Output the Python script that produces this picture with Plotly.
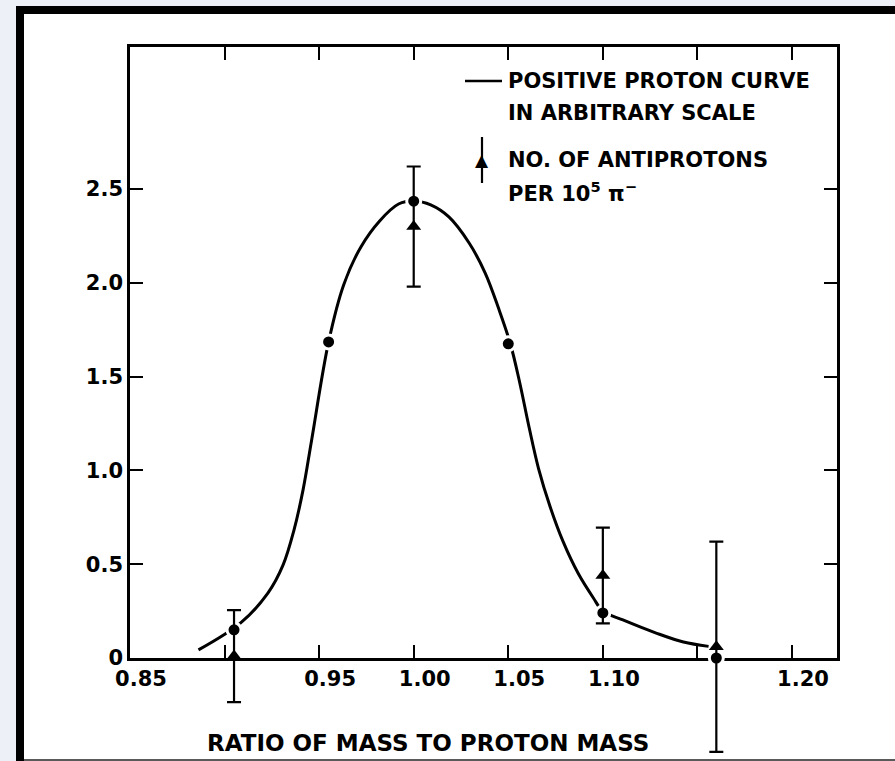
import plotly.graph_objects as go

# ---- data ----
curve_x = [0.8862, 0.9085, 0.9229, 0.9309, 0.9367, 0.9415, 0.9460, 0.9550, 0.9630,
           0.9720, 0.9820, 0.9920, 1.0005, 1.0090, 1.0186, 1.0293, 1.0378, 1.0450,
           1.0511, 1.0560, 1.0610, 1.0660, 1.0720, 1.0790, 1.0870, 1.0950, 1.1000,
           1.1106, 1.1282, 1.1426, 1.1559]
curve_y = [0.043, 0.187, 0.346, 0.495, 0.682, 0.896, 1.160, 1.685, 1.990,
           2.190, 2.330, 2.420, 2.436, 2.415, 2.351, 2.212, 2.052, 1.860,
           1.675, 1.470, 1.230, 1.010, 0.810, 0.620, 0.450, 0.320, 0.250,
           0.203, 0.133, 0.085, 0.062]

proton_x = [0.905, 0.955, 1.00, 1.05, 1.10, 1.16]
proton_y = [0.15, 1.685, 2.435, 1.675, 0.24, 0.0]

anti_x = [0.905, 1.00, 1.10, 1.16]
anti_y = [0.01, 2.30, 0.44, 0.06]
anti_err = [0.245, 0.32, 0.255, 0.56]

x_tickvals = [0.85, 0.95, 1.00, 1.05, 1.10, 1.20]
x_ticktext = ["0.85", "0.95", "1.00", "1.05", "1.10", "1.20"]
x_minor_ticks = [0.90, 1.15]
y_tickvals = [0, 0.5, 1.0, 1.5, 2.0, 2.5]
y_ticktext = ["0", "0.5", "1.0", "1.5", "2.0", "2.5"]

legend_lines = ["POSITIVE PROTON CURVE", "IN ARBITRARY SCALE",
                "NO. OF ANTIPROTONS", "PER 10<sup>5</sup> π<sup>−</sup>"]
x_title = "RATIO OF MASS TO PROTON MASS"

FONT = "DejaVu Sans"

# plot-area pixels: x 130..837 ; axis frame y 47..658 ; data layer extends to 761
L, R, T, B = 130, 58, 47, 0
W, H = 895 - L - R, 761 - T - B
Y_TOP, Y_ZERO = 47, 658
YMAX = 3.257
SCALE = (Y_ZERO - Y_TOP) / YMAX          # px per unit
DOM0 = (761 - Y_ZERO) / H                # domain start of framed axis
Y2MIN = YMAX - H / SCALE


def px(xpix):
    return (xpix - L) / W


def py(ypix):
    return (761 - ypix) / H


fig = go.Figure()

fig.add_trace(go.Scatter(
    x=curve_x, y=curve_y, mode="lines", xaxis="x", yaxis="y",
    line=dict(color="black", width=3, shape="spline", smoothing=1.0),
    hoverinfo="skip", showlegend=False))

fig.add_trace(go.Scatter(
    x=proton_x, y=proton_y, mode="markers", xaxis="x", yaxis="y2",
    marker=dict(symbol="circle", size=14, color="black",
                line=dict(color="white", width=3)),
    cliponaxis=False, showlegend=False))

fig.add_trace(go.Scatter(
    x=anti_x, y=anti_y, mode="markers", xaxis="x", yaxis="y2",
    marker=dict(symbol="triangle-up", size=13, color="black"),
    error_y=dict(type="data", array=anti_err, visible=True,
                 color="black", thickness=2.2, width=7),
    cliponaxis=False, showlegend=False))

shapes = [
    dict(type="rect", xref="paper", yref="paper", layer="below",
         x0=px(16), x1=px(905), y0=py(775), y1=py(6),
         fillcolor="black", line=dict(width=0)),
    dict(type="rect", xref="paper", yref="paper", layer="below",
         x0=px(24), x1=px(905), y0=py(759), y1=py(14),
         fillcolor="white", line=dict(width=0)),
    dict(type="rect", xref="paper", yref="paper", layer="below",
         x0=px(24), x1=px(905), y0=py(762), y1=py(759),
         fillcolor="#5a5a5a", line=dict(width=0)),
    # legend: line sample
    dict(type="line", xref="paper", yref="paper",
         x0=px(465), x1=px(502), y0=py(81), y1=py(81),
         line=dict(color="black", width=2.5)),
    # legend: error bar sample
    dict(type="line", xref="paper", yref="paper",
         x0=px(482), x1=px(482), y0=py(137), y1=py(183),
         line=dict(color="black", width=2.2)),
]

annotations = [
    dict(text="▲", xref="paper", yref="paper", x=px(482), y=py(160),
         showarrow=False, xanchor="center", yanchor="middle",
         font=dict(family=FONT, size=17, color="black")),
]
for txt, ycen in zip(legend_lines, [81, 113, 160, 192]):
    annotations.append(dict(
        text=txt, xref="paper", yref="paper", x=px(506), y=py(ycen),
        showarrow=False, xanchor="left", yanchor="middle",
        font=dict(family=FONT, size=21, color="black", weight="bold")))

annotations.append(dict(
    text=x_title, xref="paper", yref="paper", x=px(428), y=py(743),
    showarrow=False, xanchor="center", yanchor="middle",
    font=dict(family=FONT, size=23, color="black", weight="bold")))

axis_common = dict(showgrid=False, zeroline=False, showline=True, automargin=False,
                   linecolor="black", linewidth=2.5, mirror="ticks",
                   ticks="inside", ticklen=13, tickwidth=2.2, tickcolor="black",
                   tickfont=dict(family=FONT, size=21, color="black", weight="bold"))

fig.update_layout(
    width=895, height=761,
    margin=dict(l=L, r=R, t=T, b=B, autoexpand=False),
    paper_bgcolor="#edf1f7",
    plot_bgcolor="rgba(0,0,0,0)",
    shapes=shapes,
    annotations=annotations,
    xaxis=dict(range=[0.85, 1.2238], tickmode="array", anchor="y",
               tickvals=x_tickvals, ticktext=x_ticktext,
               minor=dict(tickmode="array", tickvals=x_minor_ticks,
                          ticks="inside", ticklen=13, tickwidth=2.2,
                          tickcolor="black"),
               ticklabelshift=11, **axis_common),
    yaxis=dict(range=[0, YMAX], domain=[DOM0, 1], anchor="x",
               tickmode="array", tickvals=y_tickvals, ticktext=y_ticktext,
               **axis_common),
    yaxis2=dict(range=[Y2MIN, YMAX], domain=[0, 1], anchor="x",
                visible=False, fixedrange=True, automargin=False),
)

fig.write_html("out.html")
